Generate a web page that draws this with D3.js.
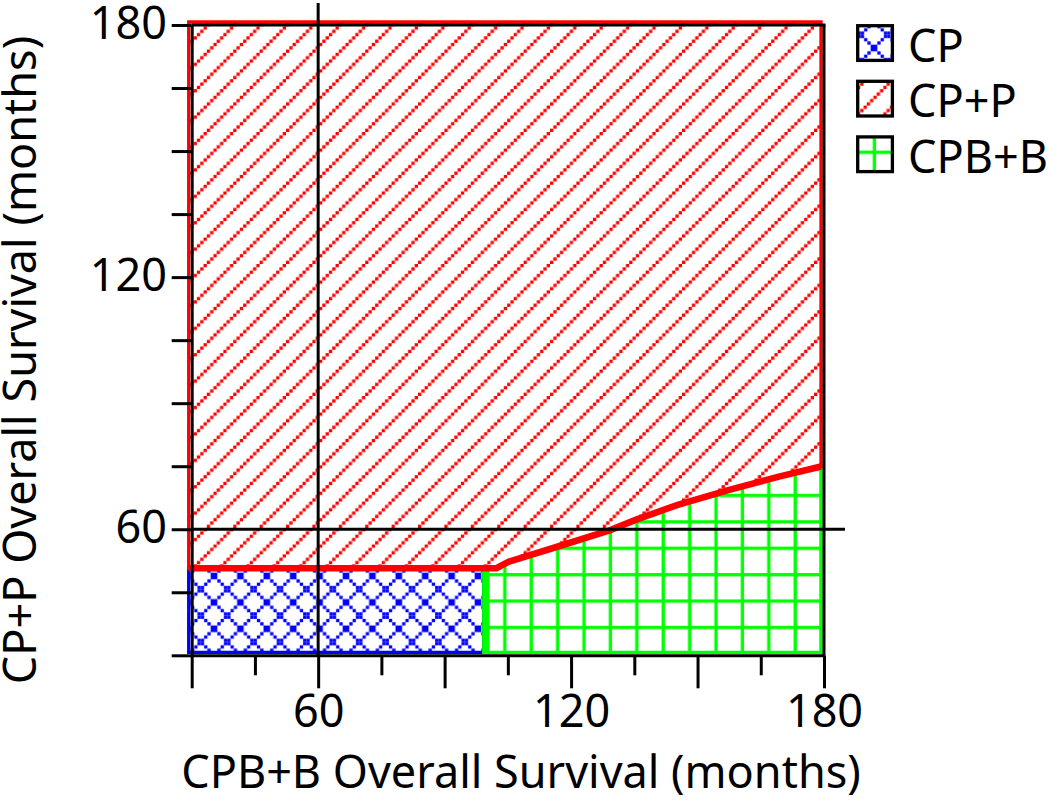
<!DOCTYPE html>
<html><head><meta charset="utf-8">
<script src="https://cdn.jsdelivr.net/npm/d3@7"></script>
<style>html,body{margin:0;padding:0;background:#fff;} svg{display:block;}</style>
</head><body><svg id="c" width="1050" height="800"></svg>
<script>
// ---------------- data ----------------
const axisDomain = [30, 180];
const xTickValues = [30, 45, 60, 75, 90, 105, 120, 135, 150, 165, 180];
const xMajorTicks = [30, 60, 90, 120, 150, 180];
const xTickLabels = [60, 120, 180];
const yTickValues = [30, 45, 60, 75, 90, 105, 120, 135, 150, 165, 180];
const yTickLabels = [60, 120, 180];
const referenceX = 60;
const referenceY = 60;
const cpRegionX = [30, 100];
const cpRegionY = [30, 50];
const boundaryX = [100, 103, 106, 118, 130, 136, 146, 158, 170, 180];
const boundaryY = [50, 50, 51.6, 55.3, 59.1, 61.5, 65.1, 68.6, 71.8, 74.2];
const legendLabels = ["CP", "CP+P", "CPB+B"];
const xTitle = "CPB+B Overall Survival (months)";
const yTitle = "CP+P Overall Survival (months)";

// ---------------- setup ----------------
const svg = d3.select("#c");
const FONT = "'Noto Sans', 'Open Sans', sans-serif";
const FS = 45;
const x = d3.scaleLinear().domain(axisDomain).range([191.7, 824]);
const y = d3.scaleLinear().domain(axisDomain).range([655.3, 25]);
const SHIFT = 3;
const xc = v => x(v) - SHIFT;
const yc = v => y(v) - SHIFT;

const BLUE = "#0000ff", RED = "#ff0000", GREEN = "#00ff00";
const P = 3.3, T = 26.4;

// ---------------- patterns ----------------
const defs = svg.append("defs");
function pattern(id, color, cells, tx, ty) {
  const p = defs.append("pattern").attr("id", id)
    .attr("patternUnits", "userSpaceOnUse")
    .attr("width", T).attr("height", T)
    .attr("patternTransform", `translate(${tx},${ty})`);
  p.append("rect").attr("width", T).attr("height", T).attr("fill", "#fff");
  cells.forEach(([c, r]) => p.append("rect")
    .attr("x", c * P).attr("y", r * P).attr("width", P).attr("height", P)
    .attr("fill", color));
}
const idx = d3.range(8);
pattern("patCP", BLUE, idx.flatMap(c => [[c, c], [c, 7 - c]]), 2.8, -4.8);
pattern("patCPP", RED, idx.map(c => [c, 7 - c]), 22, 0);
(function () {
  const p = defs.append("pattern").attr("id", "patCPB")
    .attr("patternUnits", "userSpaceOnUse")
    .attr("width", T).attr("height", T);
  p.append("rect").attr("width", T).attr("height", T).attr("fill", "#fff");
  p.append("rect").attr("x", 3.2 - P / 2).attr("y", 0).attr("width", P).attr("height", T).attr("fill", GREEN);
  p.append("rect").attr("x", 0).attr("y", 20.3 - P / 2).attr("width", T).attr("height", P).attr("fill", GREEN);
})();

// ---------------- regions ----------------
const boundary = boundaryX.map((v, i) => [v, boundaryY[i]]);
const line = d3.line().x(d => xc(d[0])).y(d => yc(d[1]));

const cpPoly = [[cpRegionX[0], cpRegionY[0]], [cpRegionX[1], cpRegionY[0]], [cpRegionX[1], cpRegionY[1]], [cpRegionX[0], cpRegionY[1]]];
const cpbPoly = [[boundaryX[0], axisDomain[0]], [axisDomain[1], axisDomain[0]]]
  .concat(boundary.slice().reverse());
const cppPoly = [[axisDomain[0], cpRegionY[1]]].concat(boundary)
  .concat([[axisDomain[1], axisDomain[1]], [axisDomain[0], axisDomain[1]]]);

const g = svg.append("g");
g.append("path").attr("d", line(cpPoly) + "Z").attr("fill", "url(#patCP)")
  .attr("stroke", BLUE).attr("stroke-width", P);
g.append("path").attr("d", line(cpbPoly) + "Z").attr("fill", "url(#patCPB)")
  .attr("stroke", GREEN).attr("stroke-width", P);
g.append("line")
  .attr("x1", xc(boundaryX[0]) + 2.5).attr("x2", xc(boundaryX[0]) + 2.5)
  .attr("y1", yc(axisDomain[0])).attr("y2", yc(boundaryY[0]))
  .attr("stroke", GREEN).attr("stroke-width", P * 2);
g.append("path").attr("d", line(cppPoly) + "Z").attr("fill", "url(#patCPP)")
  .attr("stroke", RED).attr("stroke-width", P);
g.append("path").attr("d", line([[axisDomain[0], cpRegionY[1]]].concat(boundary)))
  .attr("fill", "none").attr("stroke", RED).attr("stroke-width", P * 2)
  .attr("stroke-linejoin", "miter");

// ---------------- axes & frame ----------------
const LW = 3;
const xAxis = d3.axisBottom(x).tickValues(xTickValues).tickSize(33).tickSizeOuter(0)
  .tickPadding(6.7).tickFormat(d => xTickLabels.includes(d) ? d : "");
const gx = svg.append("g").attr("transform", `translate(0,${y(axisDomain[0])})`).call(xAxis);
gx.selectAll(".tick line").attr("stroke-width", LW)
  .attr("y2", d => xMajorTicks.includes(d) ? 33 : 20);
gx.select(".domain").attr("stroke-width", LW);
gx.selectAll("text").attr("font-family", FONT).attr("font-size", FS).attr("fill", "#000");

const yAxis = d3.axisLeft(y).tickValues(yTickValues).tickSize(20).tickSizeOuter(0)
  .tickPadding(4.7).tickFormat(d => yTickLabels.includes(d) ? d : "");
const gy = svg.append("g").attr("transform", `translate(${x(axisDomain[0])},0)`).call(yAxis);
gy.selectAll(".tick line").attr("stroke-width", LW);
gy.select(".domain").attr("stroke-width", LW);
gy.selectAll("text").attr("font-family", FONT).attr("font-size", FS).attr("fill", "#000")
  .attr("dy", "0.30em");

// frame top & right
svg.append("line").attr("x1", x(axisDomain[0])).attr("x2", x(axisDomain[1]) + LW / 2)
  .attr("y1", y(axisDomain[1])).attr("y2", y(axisDomain[1]))
  .attr("stroke", "#000").attr("stroke-width", LW);
svg.append("line").attr("x1", x(axisDomain[1])).attr("x2", x(axisDomain[1]))
  .attr("y1", y(axisDomain[1])).attr("y2", y(axisDomain[0]))
  .attr("stroke", "#000").attr("stroke-width", LW);

// reference lines
svg.append("line").attr("x1", x(referenceX)).attr("x2", x(referenceX))
  .attr("y1", 3).attr("y2", y(axisDomain[0]))
  .attr("stroke", "#000").attr("stroke-width", LW);
svg.append("line").attr("x1", x(axisDomain[0])).attr("x2", x(axisDomain[1]) + 21)
  .attr("y1", y(referenceY)).attr("y2", y(referenceY))
  .attr("stroke", "#000").attr("stroke-width", LW);

// ---------------- titles ----------------
svg.append("text").attr("x", 521).attr("y", 788).attr("text-anchor", "middle")
  .attr("font-family", FONT).attr("font-size", FS).attr("fill", "#000").text(xTitle);
svg.append("text").attr("transform", "translate(36,360) rotate(-90)").attr("text-anchor", "middle")
  .attr("font-family", FONT).attr("font-size", FS).attr("fill", "#000").text(yTitle);

// ---------------- legend ----------------
const legendPats = ["patCP", "patCPP", "patCPB"];
const lg = svg.append("g");
legendLabels.forEach((lab, i) => {
  lg.append("rect").attr("x", 857.7).attr("y", 25.7 + i * 55.6)
    .attr("width", 34.7).attr("height", 34.7)
    .attr("fill", `url(#${legendPats[i]})`).attr("stroke", "#000").attr("stroke-width", P);
  lg.append("text").attr("x", 908).attr("y", 61.7 + i * 55.7)
    .attr("font-family", FONT).attr("font-size", FS).attr("fill", "#000").text(lab);
});
</script></body></html>
